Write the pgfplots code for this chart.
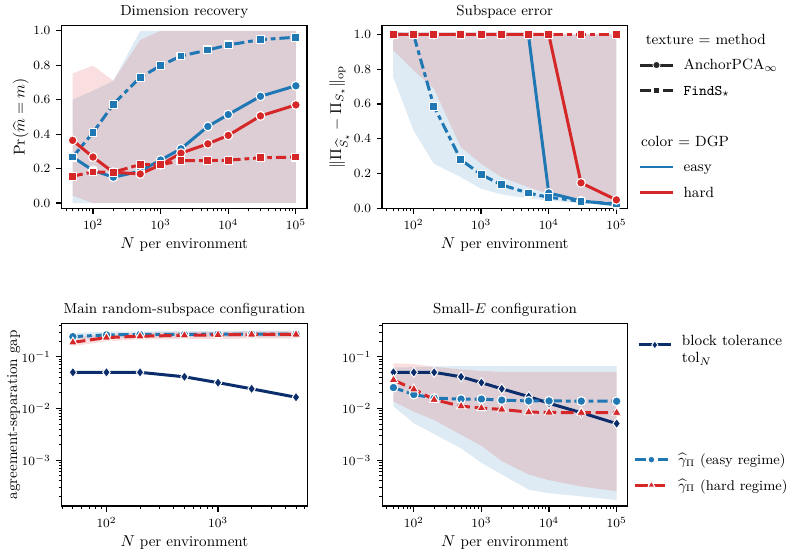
\documentclass[border=0pt]{standalone}
\usepackage{pgfplots}
\pgfplotsset{compat=1.18}

\definecolor{cblue}{HTML}{1F77B4}
\definecolor{cred}{HTML}{D62728}
\definecolor{cnavy}{HTML}{0B2D6B}
\definecolor{cleg}{HTML}{262626}

\pgfplotsset{
  every axis title/.style={at={(0.5,1)}, anchor=base, yshift=6.3pt, font=\fontsize{9.25}{11}\selectfont},
  every axis/.append style={
    scale only axis, width=156pt, height=116pt, anchor=north west,
    tick pos=left, tick align=outside,
    major tick length=3.5pt, minor tick length=2pt,
    axis line style={line width=0.8pt},
    tick label style={font=\fontsize{8.5}{10}\selectfont},
    label style={font=\fontsize{9.6}{11}\selectfont},
    xlabel={$N$ per environment},
    xlabel style={at={(axis description cs:0.5,0)}, anchor=base, yshift=-25.5pt},
    legend style={draw=none, fill=none, font=\fontsize{9.4}{11}\selectfont, row sep=3pt, column sep=4pt},
    legend cell align=left,
  },
  every major tick/.append style={line width=0.8pt, black},
  every minor tick/.append style={line width=0.6pt, black},
  legend image code/.code={\draw[mark repeat=2,mark phase=2,#1] plot coordinates {(0cm,0cm) (0.36cm,0cm) (0.72cm,0cm)};},
  band/.style={draw=none, fill=#1, fill opacity=0.15},
  anch/.style={color=#1, solid, line width=1.9pt, mark=*, mark size=2.8pt,
    mark options={solid, fill=#1, draw=white, line width=0.7pt}},
  find/.style={color=#1, line width=1.9pt, dash pattern=on 6.5pt off 2.5pt on 3pt off 2.5pt,
    mark=square*, mark size=2.5pt, mark options={solid, fill=#1, draw=white, line width=0.7pt}},
  tolstyle/.style={color=cnavy, solid, line width=1.9pt, mark=diamond*, mark size=3.2pt,
    mark options={solid, fill=cnavy, draw=white, line width=0.6pt}},
  easystyle/.style={color=cblue, line width=1.9pt, dash pattern=on 6.5pt off 2.5pt on 3pt off 2.5pt,
    mark=*, mark size=2.8pt, mark options={solid, fill=cblue, draw=white, line width=0.7pt}},
  hardstyle/.style={color=cred, line width=1.9pt, dash pattern=on 8pt off 3pt,
    mark=triangle*, mark size=3.3pt, mark options={solid, fill=cred, draw=white, line width=0.6pt}},
}

\begin{document}
\begin{tikzpicture}
\useasboundingbox (0,0) rectangle (503.95pt,-353.3pt);

% ---------------- Dimension recovery ----------------
\begin{axis}[at={(39.08pt,-16.33pt)}, xmode=log, xmin=34.2, xmax=146000, ymin=-0.03, ymax=1.03,
  xtick={100,1000,10000,100000},
  minor xtick={40,50,60,70,80,90,200,300,400,500,600,700,800,900,2000,3000,4000,5000,6000,7000,8000,9000,20000,30000,40000,50000,60000,70000,80000,90000},
  ytick={0,0.2,0.4,0.6,0.8,1.0},
  yticklabel style={/pgf/number format/fixed, /pgf/number format/fixed zerofill, /pgf/number format/precision=1},
  title={Dimension recovery}, ylabel={$\Pr(\widehat{m}=m)$},
  ylabel style={at={(axis description cs:-0.150,0.5)}, anchor=base}]
\addplot[band=cblue, forget plot] coordinates {(50,0.60) (100,0.652) (200,0.71) (500,1.0) (1000,1.0) (2000,1.0) (5000,1.0) (10000,1.0) (30000,1.0) (100000,1.0)
  (100000,0) (30000,0) (10000,0) (5000,0) (2000,0) (1000,0) (500,0) (200,0) (100,0) (50,0)};
\addplot[band=cred, forget plot] coordinates {(50,0.753) (100,0.798) (200,0.71) (500,0.947) (1000,1.0) (2000,1.0) (5000,1.0) (10000,1.0) (30000,1.0) (100000,1.0)
  (100000,0) (30000,0) (10000,0) (5000,0) (2000,0) (1000,0) (500,0) (200,0) (100,0) (50,0.043)};
\addplot[anch=cblue, forget plot] coordinates {(50,0.267) (100,0.19) (200,0.15) (500,0.185) (1000,0.25) (2000,0.315) (5000,0.445) (10000,0.514) (30000,0.62) (100000,0.681)};
\addplot[find=cblue, forget plot] coordinates {(50,0.267) (100,0.409) (200,0.574) (500,0.73) (1000,0.798) (2000,0.854) (5000,0.889) (10000,0.918) (30000,0.949) (100000,0.963)};
\addplot[anch=cred, forget plot] coordinates {(50,0.364) (100,0.267) (200,0.179) (500,0.169) (1000,0.222) (2000,0.29) (5000,0.344) (10000,0.393) (30000,0.506) (100000,0.57)};
\addplot[find=cred, forget plot] coordinates {(50,0.156) (100,0.181) (200,0.179) (500,0.224) (1000,0.222) (2000,0.247) (5000,0.247) (10000,0.249) (30000,0.263) (100000,0.267)};
\end{axis}

% ---------------- Subspace error ----------------
\begin{axis}[at={(242.76pt,-16.33pt)}, xmode=log, xmin=34.2, xmax=146000, ymin=0, ymax=1.05,
  xtick={100,1000,10000,100000},
  minor xtick={40,50,60,70,80,90,200,300,400,500,600,700,800,900,2000,3000,4000,5000,6000,7000,8000,9000,20000,30000,40000,50000,60000,70000,80000,90000},
  ytick={0,0.2,0.4,0.6,0.8,1.0},
  yticklabel style={/pgf/number format/fixed, /pgf/number format/fixed zerofill, /pgf/number format/precision=1},
  title={Subspace error}, ylabel={$\|\Pi_{\widehat{S}_\star}-\Pi_{S_\star}\|_{\mathrm{op}}$},
  ylabel style={at={(axis description cs:-0.167,0.5)}, anchor=base},
  legend style={at={(axis description cs:1.026,1.0)}, anchor=north west}]
\addplot[band=cblue, forget plot] coordinates {(50,1) (100,1) (200,1) (500,1) (1000,1) (2000,1) (5000,1) (10000,1) (30000,1) (100000,1)
  (100000,0.021) (30000,0.028) (10000,0.044) (5000,0.057) (2000,0.08) (1000,0.112) (500,0.179) (200,0.256) (100,0.448) (50,0.755)};
\addplot[band=cred, forget plot] coordinates {(50,1) (100,1) (200,1) (500,1) (1000,1) (2000,1) (5000,1) (10000,1) (30000,1) (100000,1)
  (100000,0.025) (30000,0.044) (10000,0.083) (5000,0.121) (2000,0.179) (1000,0.256) (500,0.352) (200,0.689) (100,0.794) (50,0.909)};
\addplot[anch=cblue, forget plot] coordinates {(50,1) (100,1) (200,1) (500,1) (1000,1) (2000,1) (5000,1) (10000,0.088) (30000,0.042) (100000,0.02)};
\addplot[find=cblue, forget plot] coordinates {(50,1) (100,1) (200,0.587) (500,0.279) (1000,0.194) (2000,0.135) (5000,0.087) (10000,0.063) (30000,0.04) (100000,0.025)};
\addplot[anch=cred, forget plot] coordinates {(50,1) (100,1) (200,1) (500,1) (1000,1) (2000,1) (5000,1) (10000,1) (30000,0.146) (100000,0.048)};
\addplot[find=cred, forget plot] coordinates {(50,1) (100,1) (200,1) (500,1) (1000,1) (2000,1) (5000,1) (10000,1) (30000,1) (100000,1)};
\addlegendimage{empty legend}\addlegendentry{\strut\hspace*{-24pt}texture = method}
\addlegendimage{cleg, solid, line width=1.9pt, mark=*, mark size=2.3pt, mark options={solid, fill=cleg, draw=white, line width=0.5pt}}
\addlegendentry{\strut AnchorPCA$_\infty$}
\addlegendimage{cleg, line width=1.9pt, dash pattern=on 6.5pt off 2.5pt on 3pt off 2.5pt, mark=square*, mark size=2pt, mark options={solid, fill=cleg, draw=white, line width=0.5pt}}
\addlegendentry{\strut\texttt{FindS}$_\star$}
\addlegendimage{empty legend}\addlegendentry{\strut}
\addlegendimage{empty legend}\addlegendentry{\strut\hspace*{-27pt}color = DGP}
\addlegendimage{cblue, solid, line width=1.9pt}\addlegendentry{\strut easy}
\addlegendimage{cred, solid, line width=1.9pt}\addlegendentry{\strut hard}
\end{axis}

% ---------------- Main random-subspace configuration ----------------
\begin{axis}[at={(39.21pt,-205.58pt)}, xmode=log, ymode=log, xmin=39.7, xmax=6295, ymin=1.3e-4, ymax=0.44,
  xtick={100,1000}, minor xtick={40,50,60,70,80,90,200,300,400,500,600,700,800,900,2000,3000,4000,5000,6000},
  ytick={1e-3,1e-2,1e-1},
  minor ytick={2e-4,3e-4,4e-4,5e-4,6e-4,7e-4,8e-4,9e-4,2e-3,3e-3,4e-3,5e-3,6e-3,7e-3,8e-3,9e-3,2e-2,3e-2,4e-2,5e-2,6e-2,7e-2,8e-2,9e-2,2e-1,3e-1,4e-1},
  title={Main random-subspace configuration}, ylabel={agreement-separation gap},
  ylabel style={at={(axis description cs:-0.182,0.5)}, anchor=base},
  legend style={at={(axis description cs:2.31,0.33)}, anchor=north west, font=\fontsize{9}{11}\selectfont}]
\addplot[band=cblue, forget plot] coordinates {(50,0.285) (100,0.31) (200,0.31) (500,0.315) (1000,0.315) (2000,0.32) (5000,0.32)
  (5000,0.24) (2000,0.24) (1000,0.24) (500,0.235) (200,0.235) (100,0.23) (50,0.215)};
\addplot[band=cred, forget plot] coordinates {(50,0.235) (100,0.275) (200,0.29) (500,0.3) (1000,0.305) (2000,0.31) (5000,0.31)
  (5000,0.225) (2000,0.225) (1000,0.22) (500,0.22) (200,0.215) (100,0.2) (50,0.16)};
\addplot[tolstyle, forget plot] coordinates {(50,0.05) (100,0.05) (200,0.05) (500,0.041) (1000,0.0316) (2000,0.024) (5000,0.0165)};
\addplot[easystyle, forget plot] coordinates {(50,0.245) (100,0.265) (200,0.27) (500,0.27) (1000,0.275) (2000,0.275) (5000,0.275)};
\addplot[hardstyle, forget plot] coordinates {(50,0.19) (100,0.235) (200,0.25) (500,0.26) (1000,0.265) (2000,0.27) (5000,0.27)};
\addlegendimage{easystyle, mark size=2.2pt}\addlegendentry{\strut$\widehat{\gamma}_{\Pi}$ (easy regime)}
\addlegendimage{hardstyle, mark size=2.6pt}\addlegendentry{\strut$\widehat{\gamma}_{\Pi}$ (hard regime)}
\end{axis}

% ---------------- Small-E configuration ----------------
\begin{axis}[at={(242.95pt,-205.58pt)}, xmode=log, ymode=log, xmin=34.2, xmax=146000, ymin=1.3e-4, ymax=0.44,
  xtick={100,1000,10000,100000},
  minor xtick={40,50,60,70,80,90,200,300,400,500,600,700,800,900,2000,3000,4000,5000,6000,7000,8000,9000,20000,30000,40000,50000,60000,70000,80000,90000},
  ytick={1e-3,1e-2,1e-1},
  minor ytick={2e-4,3e-4,4e-4,5e-4,6e-4,7e-4,8e-4,9e-4,2e-3,3e-3,4e-3,5e-3,6e-3,7e-3,8e-3,9e-3,2e-2,3e-2,4e-2,5e-2,6e-2,7e-2,8e-2,9e-2,2e-1,3e-1,4e-1},
  title={Small-$E$ configuration},
  legend style={at={(axis description cs:1.018,0.8825)}, anchor=west}]
\addplot[band=cblue, forget plot] coordinates {(50,0.062) (100,0.063) (200,0.065) (500,0.066) (1000,0.066) (2000,0.066) (5000,0.066) (10000,0.066) (30000,0.066) (100000,0.066)
  (100000,0.00017) (30000,0.0002) (10000,0.00023) (5000,0.00027) (2000,0.00053) (1000,0.00089) (500,0.0017) (200,0.0032) (100,0.0052) (50,0.011)};
\addplot[band=cred, forget plot] coordinates {(50,0.075) (100,0.072) (200,0.064) (500,0.057) (1000,0.053) (2000,0.051) (5000,0.051) (10000,0.051) (30000,0.051) (100000,0.051)
  (100000,0.00025) (30000,0.00031) (10000,0.00041) (5000,0.00053) (2000,0.00096) (1000,0.0019) (500,0.0031) (200,0.006) (100,0.0087) (50,0.0136)};
\addplot[tolstyle, forget plot] coordinates {(50,0.05) (100,0.05) (200,0.05) (500,0.041) (1000,0.0316) (2000,0.024) (5000,0.017) (10000,0.0126) (30000,0.0083) (100000,0.0051)};
\addplot[easystyle, forget plot] coordinates {(50,0.0254) (100,0.0186) (200,0.0159) (500,0.0152) (1000,0.0152) (2000,0.0145) (5000,0.014) (10000,0.014) (30000,0.0139) (100000,0.0138)};
\addplot[hardstyle, forget plot] coordinates {(50,0.0356) (100,0.0236) (200,0.0148) (500,0.0111) (1000,0.0102) (2000,0.0096) (5000,0.0085) (10000,0.0084) (30000,0.0083) (100000,0.0083)};
\addlegendimage{tolstyle, mark size=2.6pt}
\addlegendentry{\begin{tabular}{@{}l@{}}block tolerance\\tol$_N$\end{tabular}}
\end{axis}
\end{tikzpicture}
\end{document}
